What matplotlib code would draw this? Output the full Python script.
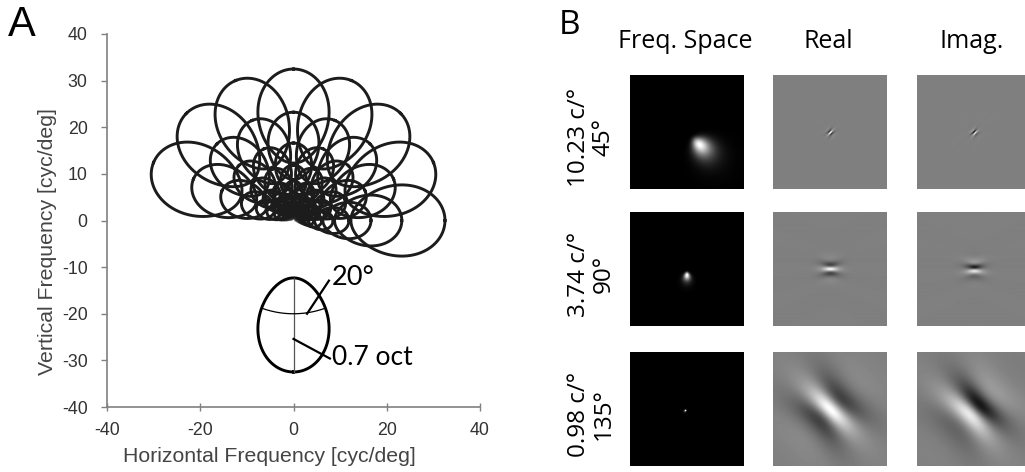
import numpy as np
import matplotlib.pyplot as plt

plt.rcParams['axes.unicode_minus'] = False

# log-Gabor filter bank shown in panel A (peak freq in cyc/deg, orientation in deg)
scales = [20.0, 14.3, 10.23, 7.32, 5.23, 3.74, 2.68, 1.92, 1.37, 0.98, 0.70, 0.50, 0.36]
orientations = [0, 22.5, 45, 67.5, 90, 112.5, 135, 157.5]
bw_oct = 0.7   # radial half-bandwidth
bw_deg = 20    # angular half-bandwidth

# example filter drawn as a key under the fan
key_freq = 20.0
key_ori = -90

# panel B filters
row_freqs = [10.23, 3.74, 0.98]
row_oris = [45, 90, 135]
row_labels = ['10.23 c/°\n45°', '3.74 c/°\n90°', '0.98 c/°\n135°']
col_titles = ['Freq. Space', 'Real', 'Imag.']

W, H = 1025, 472
fig = plt.figure(figsize=(W / 100, H / 100), dpi=100)


def contour(r0, th0):
    t = np.linspace(0, 2 * np.pi, 400)
    r = r0 * 2 ** (bw_oct * np.cos(t))
    th = np.deg2rad(th0 + bw_deg * np.sin(t))
    return r * np.cos(th), r * np.sin(th)


def loggabor(fx, fy, r0, th0):
    r = np.hypot(fx, fy)
    r[r == 0] = 1e-9
    sig_r = bw_oct / np.sqrt(2 * np.log(2))
    sig_t = np.deg2rad(bw_deg) / np.sqrt(2 * np.log(2))
    radial = np.exp(-np.log2(r / r0) ** 2 / (2 * sig_r ** 2))
    dth = (np.arctan2(fy, fx) - np.deg2rad(th0) + np.pi) % (2 * np.pi) - np.pi
    return radial * np.exp(-dth ** 2 / (2 * sig_t ** 2))


# ---- panel A ----
ax = fig.add_axes([107 / W, 1 - 407 / H, 373 / W, 373 / H])
for r0 in scales:
    k = min(1.0, r0 / 2.2)
    for th0 in orientations:
        x, y = contour(r0, th0)
        ax.plot(x, y, color='#1c1c1c', lw=2.1 * k ** 0.7, alpha=0.12 + 0.88 * k ** 1.5)

x, y = contour(key_freq, key_ori)
ax.plot(x, y, color='black', lw=2.1)
ax.plot([0, 0], [-key_freq / 2 ** bw_oct, -key_freq * 2 ** bw_oct], color='#555555', lw=0.9)
arc = np.deg2rad(np.linspace(key_ori - bw_deg, key_ori + bw_deg, 50))
ax.plot(key_freq * np.cos(arc), key_freq * np.sin(arc), color='black', lw=0.9)
ax.plot([2.9, 7.6], [-20, -12.9], color='black', lw=1.6)
ax.plot([0, 7.8], [-25.4, -29.6], color='black', lw=1.6)
ax.text(8.3, -12.3, '20°', fontsize=19.5, family='Lato', va='center', ha='left')
ax.text(8.3, -29.3, '0.7 oct', fontsize=19, family='Lato', va='center', ha='left')

ax.set_xlim(-40, 40)
ax.set_ylim(-40, 40)
ax.set_xticks([-40, -20, 0, 20, 40])
ax.set_yticks(np.arange(-40, 41, 10))
for s in ['top', 'right']:
    ax.spines[s].set_visible(False)
for s in ['left', 'bottom']:
    ax.spines[s].set_color('#808080')
    ax.spines[s].set_linewidth(1.2)
ax.tick_params(axis='y', direction='out', length=4, width=1, color='#808080',
               labelsize=12.8, labelcolor='#333333', pad=10)
ax.tick_params(axis='x', direction='inout', length=6, width=1, color='#808080',
               labelsize=12.8, labelcolor='#333333', pad=8)
for lab in ax.get_xticklabels() + ax.get_yticklabels():
    lab.set_family('Liberation Sans')

fig.text(269 / W, 1 - 457 / H, 'Horizontal Frequency [cyc/deg]', ha='center', va='center',
         fontsize=15.3, color='#444444', family='Liberation Sans')
fig.text(48 / W, 1 - 242 / H, 'Vertical Frequency [cyc/deg]', ha='center', va='center',
         rotation=90, fontsize=15.3, color='#444444', family='Liberation Sans')
fig.text(8 / W, 1 - 5 / H, 'A', ha='left', va='top', fontsize=30, family='Liberation Sans')

# ---- panel B ----
fig.text(559 / W, 1 - 9 / H, 'B', ha='left', va='top', fontsize=24, family='Open Sans')

col_x = [630, 773, 917]
row_y = [75, 212, 352]
side = 114
for cx, title in zip(col_x, col_titles):
    fig.text((cx + side / 2 - 2) / W, 1 - 42 / H, title, ha='center', va='center',
             fontsize=18, family='Open Sans')

# frequency-space grid (cyc/deg) and spatial grid (deg)
F = 32.0
f = np.linspace(-F, F, side)
FX, FY = np.meshgrid(f, f)
M = 512
dx = 2.3 / side
fs = np.fft.fftfreq(M, d=dx)
SX, SY = np.meshgrid(fs, fs)
c0 = M // 2 - side // 2

for cy, r0, th0, lab in zip(row_y, row_freqs, row_oris, row_labels):
    fig.text(591 / W, 1 - (cy + side / 2 + 5) / H, lab, ha='center', va='center',
             rotation=90, fontsize=17.5, family='Open Sans', multialignment='center',
             linespacing=1.05)
    spec = loggabor(FX, FY, r0, th0)
    sp = np.fft.fftshift(np.fft.ifft2(loggabor(SX, SY, r0, th0)))
    sp = sp[c0:c0 + side, c0:c0 + side]
    m = max(np.abs(sp.real).max(), np.abs(sp.imag).max())
    imgs = [(spec, 0, spec.max()), (sp.real, -m, m), (sp.imag, -m, m)]
    for cx, (img, lo, hi) in zip(col_x, imgs):
        a = fig.add_axes([cx / W, 1 - (cy + side) / H, side / W, side / H])
        a.imshow(img, cmap='gray', vmin=lo, vmax=hi, aspect='auto', interpolation='bilinear')
        a.axis('off')

fig.savefig('out.png', dpi=100)
